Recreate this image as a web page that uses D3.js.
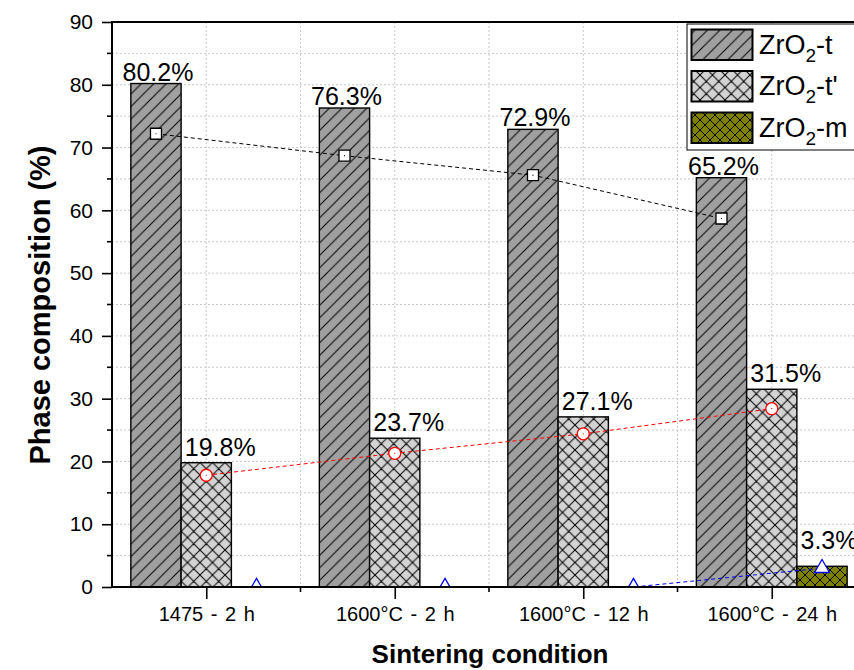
<!DOCTYPE html>
<html>
<head>
<meta charset="utf-8">
<script src="https://cdn.jsdelivr.net/npm/d3@7"></script>
<style>
  body { margin: 0; background: #fff; }
  svg text { font-family: "Liberation Sans", Arial, sans-serif; fill: #000; }
</style>
</head>
<body>
<svg id="chart" width="854" height="670"></svg>
<script>
// Phase composition per sintering condition
const categories = ["1475 - 2 h", "1600°C - 2 h", "1600°C - 12 h", "1600°C - 24 h"];
const seriesKeys = ["t", "tp", "m"];
const seriesSuffix = ["-t", "-t'", "-m"];
const tetragonal = [80.2, 76.3, 72.9, 65.2];
const tetragonalPrime = [19.8, 23.7, 27.1, 31.5];
const monoclinic = [0, 0, 0, 3.3];
// dashed trend series drawn over the bars
const tetragonalTrend = [72.2, 68.7, 65.6, 58.7];
const tetragonalPrimeTrend = [17.8, 21.3, 24.4, 28.4];
const monoclinicTrend = [0, 0, 0, 3.0];
const yTicks = [0, 10, 20, 30, 40, 50, 60, 70, 80, 90];
const yMinorTicks = [5, 15, 25, 35, 45, 55, 65, 75, 85];

const barValues = { t: tetragonal, tp: tetragonalPrime, m: monoclinic };
const trendValues = { t: tetragonalTrend, tp: tetragonalPrimeTrend, m: monoclinicTrend };
const trendColor = { t: "#000000", tp: "#ff0000", m: "#0000ff" };
// value label placement relative to the top centre of each bar
const labelShift = { t: [2, 3], tp: [14, 7], m: [7, 17] };

const svg = d3.select("#chart");
const plotLeft = 112, plotTop = 22, plotBottom = 587, plotRight = 866;

const y = d3.scaleLinear().domain([0, 90]).range([plotBottom, plotTop]);
const x0 = d3.scaleBand().domain(categories).range([plotLeft, plotRight])
  .paddingInner(0.2).paddingOuter(0.1);
const x1 = d3.scaleBand().domain(seriesKeys).range([0, x0.bandwidth()]);
const center = c => x0(c) + x0.bandwidth() / 2;
const boundaries = categories.slice(1).map(c => x0(c) - x0.step() * 0.1);

// fill patterns
const defs = svg.append("defs");
function hatch(id, size, fill, cross) {
  const p = defs.append("pattern").attr("id", id)
    .attr("patternUnits", "userSpaceOnUse")
    .attr("width", size).attr("height", size);
  p.append("rect").attr("width", size).attr("height", size).attr("fill", fill);
  let d = `M0,${size}L${size},0M${-size / 2},${size / 2}L${size / 2},${-size / 2}M${size / 2},${size * 1.5}L${size * 1.5},${size / 2}`;
  if (cross) d += `M0,0L${size},${size}M${-size / 2},${size / 2}L${size / 2},${size * 1.5}M${size / 2},${-size / 2}L${size * 1.5},${size / 2}`;
  p.append("path").attr("d", d).attr("stroke", "#000").attr("stroke-width", 1).attr("fill", "none");
}
hatch("fill-t", 12.5, "#a0a0a0", false);
hatch("fill-tp", 12.5, "#d3d3d3", true);
hatch("fill-m", 10, "#808000", true);

defs.append("clipPath").attr("id", "plot-clip")
  .append("rect").attr("x", plotLeft).attr("y", plotTop)
  .attr("width", plotRight - plotLeft).attr("height", plotBottom - plotTop);

// grid
const grid = svg.append("g").attr("stroke", "#c8c8c8").attr("stroke-width", 1).attr("stroke-dasharray", "2,2");
yTicks.concat(yMinorTicks).filter(v => v > 0 && v < 90).forEach(v => {
  grid.append("line").attr("x1", plotLeft).attr("x2", plotRight).attr("y1", y(v)).attr("y2", y(v));
});
categories.map(center).concat(boundaries).forEach(px => {
  grid.append("line").attr("x1", px).attr("x2", px).attr("y1", plotTop).attr("y2", plotBottom);
});

// bars
seriesKeys.forEach(k => {
  svg.append("g").selectAll("rect")
    .data(categories.map((c, i) => ({ c, v: barValues[k][i] })).filter(d => d.v > 0))
    .join("rect")
    .attr("x", d => x0(d.c) + x1(k)).attr("width", x1.bandwidth())
    .attr("y", d => y(d.v)).attr("height", d => plotBottom - y(d.v))
    .attr("fill", `url(#fill-${k})`).attr("stroke", "#000").attr("stroke-width", 1.4);
});

// value labels
seriesKeys.forEach(k => {
  categories.forEach((c, i) => {
    const v = barValues[k][i];
    if (v <= 0) return;
    svg.append("text")
      .attr("x", x0(c) + x1(k) + x1.bandwidth() / 2 + labelShift[k][0])
      .attr("y", y(v) - labelShift[k][1])
      .attr("text-anchor", "middle").attr("font-size", 25)
      .text(v.toFixed(1) + "%");
  });
});

// trend lines and markers
const trends = svg.append("g").attr("clip-path", "url(#plot-clip)");
seriesKeys.forEach(k => {
  const pts = categories.map((c, i) => [x0(c) + x1(k) + x1.bandwidth() / 2, y(trendValues[k][i])]);
  trends.append("path").attr("d", d3.line()(pts))
    .attr("fill", "none").attr("stroke", trendColor[k]).attr("stroke-width", 1)
    .attr("stroke-dasharray", "4,3");
  const sym = k === "t" ? d3.symbolSquare : k === "tp" ? d3.symbolCircle : d3.symbolTriangle;
  const size = k === "t" ? 121 : k === "tp" ? 113 : 97;
  pts.forEach(p => {
    trends.append("path").attr("d", d3.symbol(sym, size)())
      .attr("transform", `translate(${p[0]},${p[1]})`)
      .attr("fill", "#fff").attr("stroke", trendColor[k]).attr("stroke-width", 1.3);
    if (k !== "m") trends.append("circle").attr("cx", p[0]).attr("cy", p[1]).attr("r", 0.6).attr("fill", trendColor[k]);
  });
});

// axes
const yAxis = svg.append("g").attr("transform", `translate(${plotLeft},0)`)
  .call(d3.axisLeft(y).tickValues(yTicks).tickSize(10).tickPadding(9));
yAxis.select(".domain").remove();
yAxis.selectAll(".tick line").attr("stroke-width", 1.6);
yAxis.selectAll(".tick text").attr("font-size", 21).attr("font-family", "Liberation Sans, Arial, sans-serif");
yMinorTicks.forEach(v => {
  svg.append("line").attr("x1", plotLeft - 5).attr("x2", plotLeft).attr("y1", y(v)).attr("y2", y(v))
    .attr("stroke", "#000").attr("stroke-width", 1.6);
});

const xPoints = d3.scalePoint().domain(categories).range([center(categories[0]), center(categories[3])]);
const xAxis = svg.append("g").attr("transform", `translate(0,${plotBottom})`)
  .call(d3.axisBottom(xPoints).tickSize(12).tickPadding(8));
xAxis.select(".domain").remove();
xAxis.selectAll(".tick line").attr("stroke-width", 1.6);
xAxis.selectAll(".tick text").attr("font-size", 20).attr("font-family", "Liberation Sans, Arial, sans-serif")
  .style("word-spacing", "2px");
boundaries.forEach(px => {
  svg.append("line").attr("x1", px).attr("x2", px).attr("y1", plotBottom).attr("y2", plotBottom + 5)
    .attr("stroke", "#000").attr("stroke-width", 1.6);
});

// frame
svg.append("path").attr("d", `M${plotRight},${plotTop}H${plotLeft}V${plotBottom}H${plotRight}`)
  .attr("fill", "none").attr("stroke", "#000").attr("stroke-width", 2);

// axis titles
svg.append("text").attr("x", 490).attr("y", 663).attr("text-anchor", "middle")
  .attr("font-size", 26).attr("font-weight", "bold").text("Sintering condition");
svg.append("text").attr("transform", "translate(50,305) rotate(-90)").attr("text-anchor", "middle")
  .attr("font-size", 29).attr("font-weight", "bold").text("Phase composition (%)");

// legend
const legend = svg.append("g");
legend.append("rect").attr("x", 687).attr("y", 24).attr("width", 200).attr("height", 126)
  .attr("fill", "#fff").attr("stroke", "#000").attr("stroke-width", 1);
seriesKeys.forEach((k, i) => {
  const yy = 29.5 + i * 41.5;
  legend.append("rect").attr("x", 691.5).attr("y", yy).attr("width", 61).attr("height", 30.5)
    .attr("fill", `url(#fill-${k})`).attr("stroke", "#000").attr("stroke-width", 2);
  const t = legend.append("text").attr("x", 759).attr("y", yy + 24).attr("font-size", 27);
  t.append("tspan").text("ZrO");
  t.append("tspan").attr("font-size", 19).attr("dy", 8).text("2");
  t.append("tspan").attr("dy", -8).text(seriesSuffix[i]);
});
</script>
</body>
</html>
